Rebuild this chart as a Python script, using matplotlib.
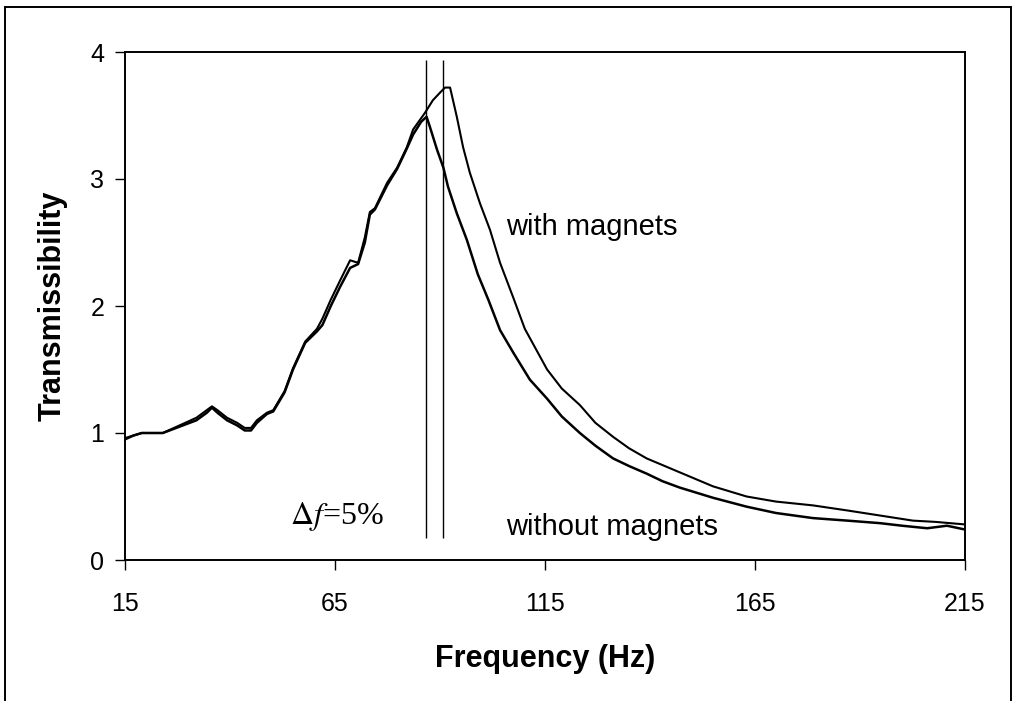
import matplotlib
matplotlib.use("Agg")
import matplotlib.pyplot as plt
from matplotlib.lines import Line2D

plt.rcParams['font.family'] = ['Liberation Sans', 'DejaVu Sans']
plt.rcParams['mathtext.fontset'] = 'stix'

# Data
freq_without = [15, 17, 19, 24, 28, 32, 34.5, 35.7, 37, 39.3, 41.7, 43.5, 45, 46.4, 48.8,
                50.3, 53, 55, 57.9, 60.7, 62, 64, 66.2, 68.6, 70.5, 72.1, 73.3, 74.5,
                77.4, 79.8, 82.1, 83.6, 85.5, 86.8, 87.6, 89.3, 90.8, 91.9, 94, 96.4,
                99, 101.5, 104.3, 107.5, 111.4, 115.5, 119, 123.3, 127, 131.2, 135,
                139.2, 143, 147.1, 155, 163, 170, 178.8, 187, 194.8, 200, 206, 210.7, 215]
trans_without = [0.95, 0.98, 1.0, 1.0, 1.05, 1.1, 1.16, 1.2, 1.16, 1.1, 1.06, 1.02, 1.02,
                 1.08, 1.15, 1.17, 1.32, 1.5, 1.71, 1.8, 1.85, 2.0, 2.15, 2.3, 2.33, 2.5,
                 2.72, 2.76, 2.95, 3.08, 3.24, 3.35, 3.45, 3.49, 3.41, 3.23, 3.09, 2.94,
                 2.73, 2.52, 2.25, 2.05, 1.81, 1.63, 1.42, 1.27, 1.13, 1.0, 0.9, 0.8,
                 0.74, 0.68, 0.62, 0.57, 0.49, 0.42, 0.37, 0.33, 0.31, 0.29, 0.27, 0.25,
                 0.27, 0.24]

freq_with = [15, 17, 19, 24, 28, 32, 35.7, 37, 39.3, 41.7, 43.5, 45, 46.4, 48.8, 50.3,
             53, 55, 57.9, 60.7, 62, 64, 66.2, 68.6, 70.5, 72.1, 73.3, 74.5, 77.4, 79.8,
             82.1, 83.6, 86.4, 88.3, 90, 91.2, 92.4, 94, 95.5, 97.1, 99.5, 101.9, 104.3,
             107.4, 110.2, 115.5, 119, 123.3, 127, 131.2, 135, 139.2, 147.1, 155, 163,
             170, 178.8, 187, 194.8, 202.6, 208, 215]
trans_with = [0.96, 0.98, 1.0, 1.0, 1.06, 1.12, 1.21, 1.18, 1.12, 1.08, 1.04, 1.04, 1.1,
              1.16, 1.18, 1.33, 1.51, 1.72, 1.82, 1.9, 2.05, 2.2, 2.36, 2.34, 2.54, 2.74,
              2.77, 2.97, 3.09, 3.25, 3.39, 3.52, 3.62, 3.68, 3.72, 3.72, 3.49, 3.25, 3.05,
              2.81, 2.6, 2.34, 2.07, 1.82, 1.5, 1.35, 1.22, 1.08, 0.97, 0.88, 0.8, 0.69,
              0.58, 0.5, 0.46, 0.43, 0.39, 0.35, 0.31, 0.3, 0.28]

marker_freqs = [86.6, 90.8]
x_ticks = [15, 65, 115, 165, 215]
y_ticks = [0, 1, 2, 3, 4]

fig = plt.figure(figsize=(10.14, 7.01), dpi=100)
ax = fig.add_axes([125 / 1014, 1 - 560 / 701, 840 / 1014, 508 / 701])

ax.plot(freq_without, trans_without, color='black', lw=1.8)
ax.plot(freq_with, trans_with, color='black', lw=1.5)
ax.vlines(marker_freqs, 0.17, 3.94, color='black', lw=1.0)

ax.set_xlim(15, 215)
ax.set_ylim(0, 4)
ax.set_xticks(x_ticks)
ax.set_yticks(y_ticks)
ax.tick_params(axis='both', direction='out', length=7, width=1.0, labelsize=18,
               colors='black', pad=8)
ax.tick_params(axis='x', pad=16)
for s in ax.spines.values():
    s.set_linewidth(1.4)

ax.set_xlabel('Frequency (Hz)', fontsize=22, fontweight='bold', labelpad=20)
ax.set_ylabel('Transmissibility', fontsize=22, fontweight='bold', labelpad=16)

ax.text(105.7, 2.56, 'with magnets', fontsize=21, ha='left', va='baseline')
ax.text(105.7, 0.2, 'without magnets', fontsize=21, ha='left', va='baseline')
ax.text(54.3, 0.28, r'$\Delta f$=5%', fontsize=23, ha='left', va='baseline',
        family=['Liberation Serif'])

# outer frame (open at the bottom)
lw = 1.4
fig.add_artist(Line2D([5 / 1014, 5 / 1014], [0, 1 - 7 / 701], color='black', lw=lw))
fig.add_artist(Line2D([5 / 1014, 1011 / 1014], [1 - 7 / 701, 1 - 7 / 701], color='black', lw=lw))
fig.add_artist(Line2D([1011 / 1014, 1011 / 1014], [0, 1 - 7 / 701], color='black', lw=lw))

fig.savefig('out.png', dpi=100)
